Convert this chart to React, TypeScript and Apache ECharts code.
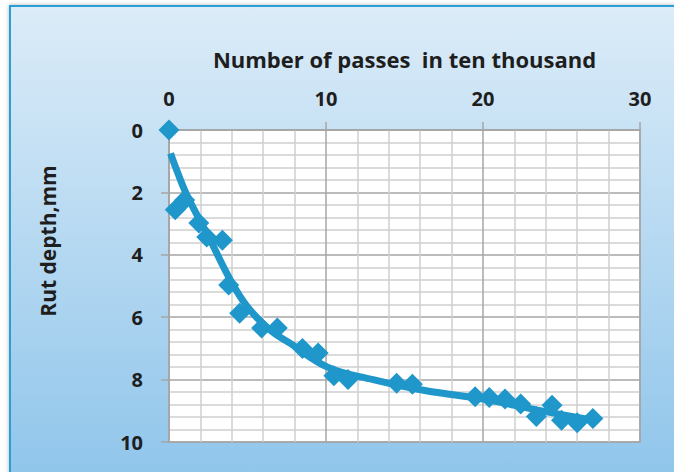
import React, { useEffect, useRef } from "react";
import * as echarts from "echarts";

const passes = [0, 0.4, 1.0, 1.9, 2.4, 3.4, 3.8, 4.5, 5.9, 6.9, 8.5, 9.5, 10.5, 11.4, 14.5, 15.5, 19.5, 20.4, 21.4, 22.4, 23.4, 24.4, 25.0, 26.0, 27.0];
const rutDepth = [0, 2.56, 2.24, 2.98, 3.43, 3.53, 4.97, 5.87, 6.35, 6.35, 7.0, 7.15, 7.88, 8.0, 8.12, 8.15, 8.55, 8.57, 8.62, 8.78, 9.18, 8.82, 9.3, 9.38, 9.25];

const trendPasses = [0.1, 0.5, 1.2, 2.6, 3.9, 5.0, 6.4, 7.7, 10.1, 13.0, 16.3, 20.3, 23.4, 27.0];
const trendDepth = [0.75, 1.3, 2.15, 3.5, 4.8, 5.67, 6.4, 6.83, 7.6, 8.0, 8.35, 8.65, 8.97, 9.3];

const xTitle = "Number of passes  in ten thousand";
const yTitle = "Rut depth,mm";

const FONT = "Open Sans";
const BLUE = "#1f97cb";
const TEXT = "#1e1e1e";

export default function App() {
  const ref = useRef<HTMLDivElement>(null);
  useEffect(() => {
    document.body.style.margin = "0";
    const chart = echarts.init(ref.current!, null, { renderer: "svg" });
    chart.setOption({
      animation: false,
      backgroundColor: "#ffffff",
      graphic: [
        {
          type: "rect",
          z: -10,
          shape: { x: 10, y: 6, width: 700, height: 500 },
          style: {
            fill: new echarts.graphic.LinearGradient(0, 0, 0, 1, [
              { offset: 0, color: "#dcecf8" },
              { offset: 1, color: "#8bc3ea" },
            ]),
            stroke: "#2a9fd6",
            lineWidth: 2,
            shadowBlur: 4,
            shadowColor: "rgba(0,0,0,0.3)",
          },
        },
        {
          type: "text",
          x: 48,
          y: 241,
          rotation: Math.PI / 2,
          style: {
            text: yTitle,
            fontFamily: FONT,
            fontWeight: "bold",
            fontSize: 21,
            fill: TEXT,
            align: "center",
            verticalAlign: "middle",
          },
        },
      ],
      grid: {
        left: 169,
        top: 130,
        width: 471,
        height: 312,
        show: true,
        backgroundColor: "#ffffff",
        borderColor: "#a6a6a6",
        borderWidth: 1.5,
      },
      xAxis: {
        type: "value",
        position: "top",
        min: 0,
        max: 30,
        interval: 10,
        name: xTitle,
        nameLocation: "middle",
        nameGap: 60,
        nameTextStyle: { fontFamily: FONT, fontWeight: "bold", fontSize: 22, color: TEXT },
        axisLine: { show: true, lineStyle: { color: "#a6a6a6", width: 1.5 } },
        axisTick: { show: true, inside: false, length: 8, lineStyle: { color: "#a6a6a6", width: 1.5 } },
        axisLabel: { fontFamily: FONT, fontWeight: "bold", fontSize: 20, color: TEXT, margin: 22 },
        splitLine: { show: true, lineStyle: { color: "#a6a6a6", width: 1.5 } },
        minorTick: { show: false, splitNumber: 5 },
        minorSplitLine: { show: true, lineStyle: { color: "#cfcfcf", width: 1.5 } },
      },
      yAxis: {
        type: "value",
        inverse: true,
        min: 0,
        max: 10,
        interval: 2,
        axisLine: { show: true, lineStyle: { color: "#a6a6a6", width: 1.5 } },
        axisTick: { show: true, inside: false, length: 8, lineStyle: { color: "#a6a6a6", width: 1.5 } },
        axisLabel: { fontFamily: FONT, fontWeight: "bold", fontSize: 20, color: TEXT, margin: 26 },
        splitLine: { show: true, lineStyle: { color: "#a6a6a6", width: 1.5 } },
        minorTick: { show: false, splitNumber: 5 },
        minorSplitLine: { show: true, lineStyle: { color: "#cfcfcf", width: 1.5 } },
      },
      series: [
        {
          type: "line",
          name: "Trend",
          data: trendPasses.map((x, i) => [x, trendDepth[i]]),
          smooth: 0.4,
          showSymbol: false,
          symbol: "none",
          lineStyle: { color: BLUE, width: 7 },
          z: 2,
        },
        {
          type: "scatter",
          name: "Rut depth",
          data: passes.map((x, i) => [x, rutDepth[i]]),
          symbol: "diamond",
          symbolSize: 21,
          clip: false,
          itemStyle: { color: BLUE, opacity: 1 },
          z: 3,
        },
      ],
    });
    return () => chart.dispose();
  }, []);
  return <div ref={ref} style={{ width: 674, height: 472 }} />;
}
